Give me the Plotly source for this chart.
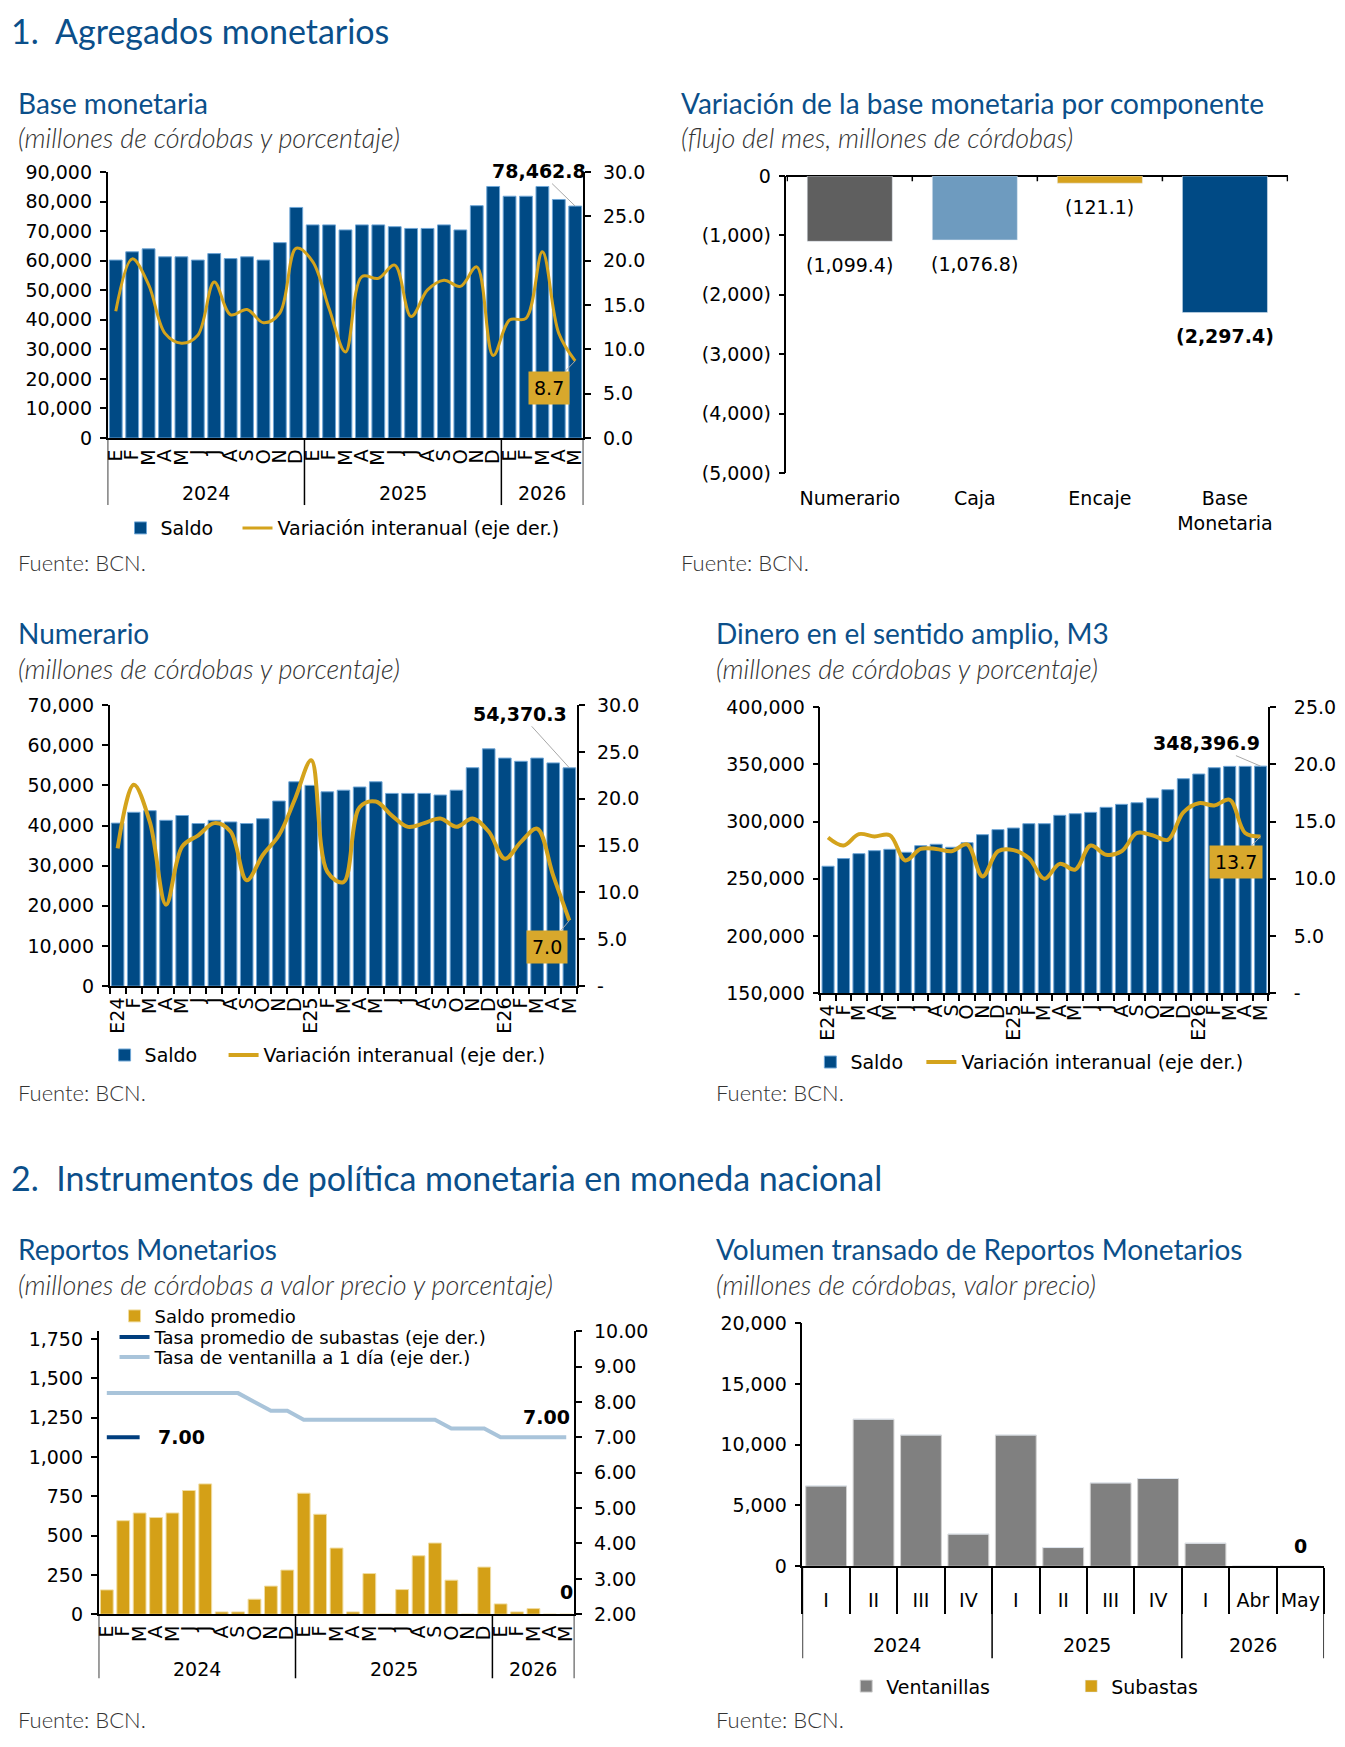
import plotly.graph_objects as go

# la página deja 8 px de margen: el lienzo es 16 px menor que la ventana
M = 8
W, H = 1345 - 2 * M, 1747 - 2 * M
# calibración vertical medida en la foto: y_foto ≈ Y0 + K · y_lienzo
Y0, K = 18.05, 0.9871


def px(x):
    return (x - M) / W


def py(y):
    return 1 - ((y - Y0) / K) / H


# ---------------- datos ----------------
anios_mes = ["2024", "2024", "2024", "2024", "2024", "2024", "2024", "2024", "2024", "2024", "2024", "2024",
             "2025", "2025", "2025", "2025", "2025", "2025", "2025", "2025", "2025", "2025", "2025", "2025",
             "2026", "2026", "2026", "2026", "2026"]
meses_mes = ["E", "F", "M", "A", "M", "J", "J", "A", "S", "O", "N", "D",
             "E", "F", "M", "A", "M", "J", "J", "A", "S", "O", "N", "D",
             "E", "F", "M", "A", "M"]
meses_cortos = ["E24", "F", "M", "A", "M", "J", "J", "A", "S", "O", "N", "D",
                "E25", "F", "M", "A", "M", "J", "J", "A", "S", "O", "N", "D",
                "E26", "F", "M", "A", "M"]

base_saldo = [60200, 63000, 64000, 61300, 61300, 60200, 62400, 60700, 61300, 60200, 66100, 78000,
              72100, 72100, 70400, 72100, 72100, 71500, 70900, 70900, 72100, 70400, 78600, 85100,
              81800, 81800, 85100, 80700, 78462.8]
base_var = [14.3, 20.2, 17.3, 11.8, 10.7, 11.6, 17.6, 13.9, 14.5, 13.0, 14.1, 21.4,
            19.9, 14.6, 9.7, 18.2, 18.0, 19.5, 13.7, 16.7, 17.8, 17.1, 19.3, 9.3,
            13.3, 13.5, 21.0, 11.8, 8.7]

comp_nombres = ["Numerario", "Caja", "Encaje", "Base<br>Monetaria"]
comp_valores = [-1099.4, -1076.8, -121.1, -2297.4]

num_saldo = [40600, 43300, 43700, 41300, 42500, 40500, 41300, 40900, 40500, 41700, 46100, 50900,
             50000, 48400, 48800, 49600, 50900, 48000, 48000, 48000, 47600, 48800, 54400, 59100,
             56800, 56000, 56800, 55600, 54370.3]
num_var = [14.7, 21.5, 17.5, 8.7, 14.9, 16.1, 17.4, 16.5, 11.3, 14.0, 16.1, 20.0,
           24.1, 12.2, 11.1, 19.1, 19.7, 18.2, 17.0, 17.4, 17.9, 17.0, 17.9, 16.5,
           13.6, 15.4, 16.8, 11.8, 7.0]

m3_saldo = [260900, 267600, 271900, 274500, 275700, 273100, 278900, 280100, 277500, 281500, 288500, 292900,
            294300, 298100, 298100, 305400, 306800, 308000, 312400, 315000, 316400, 320500, 327800, 337400,
            341500, 347000, 348200, 348200, 348396.9]
m3_var = [13.6, 12.9, 13.9, 13.7, 13.8, 11.6, 12.6, 12.6, 12.4, 13.0, 10.2, 12.4,
          12.5, 11.8, 10.0, 11.3, 10.8, 12.9, 12.1, 12.4, 14.0, 13.8, 13.4, 15.8,
          16.6, 16.4, 16.9, 14.0, 13.7]

rep_saldo = [155, 595, 644, 615, 644, 787, 829, 15, 15, 96, 179, 281,
             770, 636, 421, 15, 259, 0, 157, 372, 453, 217, 0, 300,
             66, 15, 36, 0, 0]
rep_subastas = [7.00, 7.00, 7.00, None, None, None, None, None, None, None, None, None,
                None, None, None, None, None, None, None, None, None, None, None, None,
                None, None, None, None, None]
rep_ventanilla = [8.25, 8.25, 8.25, 8.25, 8.25, 8.25, 8.25, 8.25, 8.25, 8.00, 7.75, 7.75,
                  7.50, 7.50, 7.50, 7.50, 7.50, 7.50, 7.50, 7.50, 7.50, 7.25, 7.25, 7.25,
                  7.00, 7.00, 7.00, 7.00, 7.00]

vol_anios = ["2024", "2024", "2024", "2024", "2025", "2025", "2025", "2025", "2026", "2026", "2026"]
vol_periodos = ["I", "II", "III", "IV", "I", "II", "III", "IV", "I", "Abr", "May"]
vol_ventanillas = [6610, 12100, 10800, 2650, 10800, 1540, 6860, 7220, 1900, 0, 0]
vol_subastas = [0, 0, 0, 0, 0, 0, 0, 0, 0, 0, 0]

# ---------------- estilos ----------------
AZUL_TIT = "#0b4f8a"
AZUL = "#004a85"
BORDE = "#6fa6d6"
ORO = "#d4a31c"
CAJA_ORO = "#d8a82c"
CELESTE = "#a9c4da"
AZUL_OSC = "#003e7e"
GRIS = "#808080"

FT = "DejaVu Sans"
FS = 19
tick_font = dict(family=FT, size=FS, color="black")
eje = dict(showline=True, linecolor="black", linewidth=1.5, ticks="outside", ticklen=6,
           tickcolor="black", tickwidth=1.5, showgrid=False, zeroline=False, tickfont=tick_font)

fig = go.Figure()
idx = list(range(len(meses_mes)))
idx_vol = list(range(len(vol_periodos)))

# Base monetaria
fig.add_trace(go.Bar(x=idx, y=base_saldo, name="Saldo", width=0.78, legendwidth=72,
                     marker=dict(color=AZUL, line=dict(color=BORDE, width=1)),
                     xaxis="x", yaxis="y", legend="legend"))
fig.add_trace(go.Scatter(x=idx, y=base_var, name="Variación interanual (eje der.)", mode="lines",
                         line=dict(color=ORO, width=3, shape="spline", smoothing=1),
                         xaxis="x", yaxis="y2", legend="legend"))

# Variación por componente
fig.add_trace(go.Bar(x=comp_nombres, y=comp_valores, width=0.68, showlegend=False,
                     marker=dict(color=["#5f5f5f", "#6e9bbf", "#d6a21d", AZUL]),
                     xaxis="x2", yaxis="y3"))
for n, v in zip(comp_nombres, comp_valores):
    t = f"({abs(v):,.1f})"
    fig.add_annotation(x=n, y=v, xref="x2", yref="y3", showarrow=False, yanchor="middle", yshift=-24,
                       text=f"<b>{t}</b>" if n.startswith("Base") else t,
                       font=dict(family=FT, size=FS, color="black"))

# Numerario
fig.add_trace(go.Bar(x=idx, y=num_saldo, name="Saldo", width=0.78, legendwidth=74,
                     marker=dict(color=AZUL, line=dict(color=BORDE, width=1)),
                     xaxis="x3", yaxis="y4", legend="legend2"))
fig.add_trace(go.Scatter(x=idx, y=num_var, name="Variación interanual (eje der.)", mode="lines",
                         line=dict(color=ORO, width=4, shape="spline", smoothing=1),
                         xaxis="x3", yaxis="y5", legend="legend2"))

# M3
fig.add_trace(go.Bar(x=idx, y=m3_saldo, name="Saldo", width=0.78, legendwidth=66,
                     marker=dict(color=AZUL, line=dict(color=BORDE, width=1)),
                     xaxis="x4", yaxis="y6", legend="legend3"))
fig.add_trace(go.Scatter(x=idx, y=m3_var, name="Variación interanual (eje der.)", mode="lines",
                         line=dict(color=ORO, width=4, shape="spline", smoothing=1),
                         xaxis="x4", yaxis="y7", legend="legend3"))

# Reportos
fig.add_trace(go.Bar(x=idx, y=rep_saldo, name="Saldo promedio", width=0.78,
                     marker=dict(color="#d4a017", line=dict(color="#f0dca0", width=1)),
                     xaxis="x5", yaxis="y8", legend="legend4"))
fig.add_trace(go.Scatter(x=idx, y=rep_subastas, name="Tasa promedio de subastas (eje der.)", mode="lines",
                         line=dict(color=AZUL_OSC, width=4), xaxis="x5", yaxis="y9", legend="legend6"))
fig.add_trace(go.Scatter(x=idx, y=rep_ventanilla, name="Tasa de ventanilla a 1 día (eje der.)", mode="lines",
                         line=dict(color=CELESTE, width=4), xaxis="x5", yaxis="y9", legend="legend7"))

# Volumen transado
fig.add_trace(go.Bar(x=idx_vol, y=vol_ventanillas, name="Ventanillas", width=0.86, legendwidth=180,
                     marker=dict(color=GRIS, line=dict(color="#d0d0d0", width=1)),
                     xaxis="x6", yaxis="y10", legend="legend5"))
fig.add_trace(go.Bar(x=idx_vol, y=vol_subastas, name="Subastas", width=0.86, base=vol_ventanillas,
                     marker=dict(color="#d4a017"), xaxis="x6", yaxis="y10", legend="legend5"))

# ---------------- ejes ----------------
def eje_meses(x0, x1, anchor, textos, standoff=2):
    return dict(eje, domain=[px(x0), px(x1)], anchor=anchor, range=[-0.5, len(textos) - 0.5],
                tickvals=list(range(len(textos))), ticktext=textos, tickangle=-90, ticks="",
                ticklabelstandoff=standoff)


limites = [i - 0.5 for i in range(len(meses_mes) + 1)]
menor = dict(tickvals=limites, ticks="outside", ticklen=6, tickcolor="black", tickwidth=1.5)

fig.update_layout(
    xaxis=eje_meses(104, 582, "y", meses_mes),
    yaxis=dict(eje, domain=[py(437), py(171)], range=[0, 90000], dtick=10000, tickformat=",",
               anchor="x", ticklabelstandoff=4),
    yaxis2=dict(eje, overlaying="y", side="right", range=[0, 30], dtick=5, tickformat=".1f",
                anchor="x", ticklabelstandoff=8),

    xaxis2=dict(domain=[px(786), px(1290)], anchor="y3", showline=False, ticks="",
                showgrid=False, tickfont=tick_font, ticklabelstandoff=12),
    yaxis3=dict(eje, domain=[py(472), py(175)], range=[-5000, 0], anchor="x2",
                tickvals=[0, -1000, -2000, -3000, -4000, -5000],
                ticktext=["0", "(1,000)", "(2,000)", "(3,000)", "(4,000)", "(5,000)"],
                zeroline=True, zerolinecolor="black", zerolinewidth=1.5, ticklabelstandoff=4),

    xaxis3=dict(eje_meses(106, 576, "y4", meses_cortos), minor=menor),
    yaxis4=dict(eje, domain=[py(985), py(704)], range=[0, 70000], dtick=10000, tickformat=",",
                anchor="x3", ticklabelstandoff=4),
    yaxis5=dict(eje, overlaying="y4", side="right", range=[0, 30], anchor="x3",
                tickvals=[0, 5, 10, 15, 20, 25, 30], ticklabelstandoff=8,
                ticktext=["-", "5.0", "10.0", "15.0", "20.0", "25.0", "30.0"]),

    xaxis4=dict(eje_meses(820, 1270, "y6", meses_cortos), minor=menor),
    yaxis6=dict(eje, domain=[py(992), py(706)], range=[150000, 400000], dtick=50000,
                tickformat=",", anchor="x4", ticklabelstandoff=4),
    yaxis7=dict(eje, overlaying="y6", side="right", range=[0, 25], anchor="x4",
                tickvals=[0, 5, 10, 15, 20, 25], ticklabelstandoff=14,
                ticktext=["-", "5.0", "10.0", "15.0", "20.0", "25.0"]),

    xaxis5=eje_meses(95, 573, "y8", meses_mes),
    yaxis8=dict(eje, domain=[py(1613), py(1330)], range=[0, 1800], anchor="x5",
                tickvals=[0, 250, 500, 750, 1000, 1250, 1500, 1750], tickformat=",",
                ticklabelstandoff=4),
    yaxis9=dict(eje, overlaying="y8", side="right", range=[2, 10], dtick=1, tickformat=".2f",
                anchor="x5", ticklabelstandoff=8),

    xaxis6=dict(eje, domain=[px(802), px(1326)], anchor="y10", range=[-0.5, len(vol_periodos) - 0.5],
                tickvals=idx_vol, ticktext=vol_periodos, ticks="", ticklabelstandoff=16,
                minor=dict(tickvals=[i - 0.5 for i in range(len(vol_periodos) + 1)], ticks="outside",
                           ticklen=46, tickcolor="black", tickwidth=1.5)),
    yaxis10=dict(eje, domain=[py(1565), py(1322)], range=[0, 20000], dtick=5000,
                 tickformat=",", anchor="x6", ticklabelstandoff=4),
)


# años y separadores bajo los ejes de meses
def grupos(anios):
    g = []
    for i, a in enumerate(anios):
        if g and g[-1][0] == a:
            g[-1][2] = i
        else:
            g.append([a, i, i])
    return g


def anios_eje(xr, anios, y_eje, y_anio, y_fin):
    g = grupos(anios)
    cortes = [grp[1] - 0.5 for grp in g] + [g[-1][2] + 0.5]
    for c in cortes:
        fig.add_shape(type="line", xref=xr, yref="paper", x0=c, x1=c, y0=py(y_eje), y1=py(y_fin),
                      line=dict(color="black", width=1.5))
    for a, i0, i1 in g:
        fig.add_annotation(x=(i0 + i1) / 2, y=py(y_anio), xref=xr, yref="paper", text=a,
                           showarrow=False, yanchor="middle", font=tick_font)


anios_eje("x", anios_mes, 437, 492, 504)
anios_eje("x5", anios_mes, 1613, 1668, 1677)
anios_eje("x6", vol_anios, 1565, 1644, 1657)

# marcas del eje de categorías en el gráfico de componentes
for i in range(len(comp_nombres) + 1):
    fig.add_shape(type="line", xref="x2", yref="y3", x0=i - 0.5, x1=i - 0.5, y0=0, y1=-90,
                  line=dict(color="black", width=1.5))


# ---------------- textos ----------------
def texto(x, y, t, size, color="#222", italic=False, weight=400):
    if italic:
        t = f"<i>{t}</i>"
    fig.add_annotation(x=px(x), y=py(y), xref="paper", yref="paper", text=t, showarrow=False,
                       xanchor="left", yanchor="middle",
                       font=dict(family="Lato", size=size, color=color, weight=weight))


texto(5, 30, "1.  Agregados monetarios", 34, AZUL_TIT)
texto(5, 1176, "2.  Instrumentos de política monetaria en moneda nacional", 34, AZUL_TIT)

paneles = [
    (12, 102, "Base monetaria", "(millones de córdobas y porcentaje)", 561),
    (678, 102, "Variación de la base monetaria por componente", "(flujo del mes, millones de córdobas)", 561),
    (12, 632, "Numerario", "(millones de córdobas y porcentaje)", 1091),
    (713, 632, "Dinero en el sentido amplio, M3", "(millones de córdobas y porcentaje)", 1091),
    (12, 1248, "Reportos Monetarios", "(millones de córdobas a valor precio y porcentaje)", 1718),
    (713, 1248, "Volumen transado de Reportos Monetarios", "(millones de córdobas, valor precio)", 1718),
]
for x0, y0, tit, sub, yf in paneles:
    texto(x0, y0, tit, 28, AZUL_TIT)
    texto(x0, y0 + 35, sub, 27, "#333", italic=True, weight=300)
    texto(x0, yf, "Fuente: BCN.", 22, "#333", weight=300)

lbl = dict(family=FT, size=FS, color="black")
ult = idx[-1]


def rotulo_saldo(xr, yr, valor, ax, ay):
    fig.add_annotation(x=ult, y=valor, xref=xr, yref=yr, text=f"<b>{valor:,.1f}</b>",
                       showarrow=True, arrowhead=0, arrowwidth=1, arrowcolor="#a8a8a8",
                       ax=ax, ay=ay, font=lbl)


def rotulo_var(xr, yr, valor, ax, ay):
    fig.add_annotation(x=ult, y=valor, xref=xr, yref=yr, text=f"{valor:.1f}",
                       showarrow=True, arrowhead=0, arrowwidth=1, arrowcolor="#a8a8a8",
                       ax=ax, ay=ay, bgcolor=CAJA_ORO, borderpad=5, font=lbl)


rotulo_saldo("x", "y", base_saldo[-1], -36, -35)
rotulo_var("x", "y2", base_var[-1], -26, 27)
rotulo_saldo("x3", "y4", num_saldo[-1], -49, -54)
rotulo_var("x3", "y5", num_var[-1], -22, 26)
rotulo_saldo("x4", "y6", m3_saldo[-1], -54, -23)
rotulo_var("x4", "y7", m3_var[-1], -25, 26)

ult_sub = max(i for i, v in enumerate(rep_subastas) if v is not None)
fig.add_annotation(x=ult_sub, y=rep_subastas[ult_sub], xref="x5", yref="y9",
                   text=f"<b>{rep_subastas[ult_sub]:.2f}</b>", showarrow=False,
                   xanchor="left", xshift=16, font=lbl)
fig.add_annotation(x=ult, y=rep_ventanilla[-1], xref="x5", yref="y9",
                   text=f"<b>{rep_ventanilla[-1]:.2f}</b>", showarrow=False,
                   xanchor="right", xshift=6, yshift=20, font=lbl)
fig.add_annotation(x=ult, y=rep_saldo[-1], xref="x5", yref="y8",
                   text=f"<b>{rep_saldo[-1]}</b>", showarrow=False, yshift=22, font=lbl)
fig.add_annotation(x=idx_vol[-1], y=vol_ventanillas[-1] + vol_subastas[-1],
                   xref="x6", yref="y10", text=f"<b>{vol_ventanillas[-1] + vol_subastas[-1]}</b>",
                   showarrow=False, yshift=20, font=lbl)

# ---------------- leyendas ----------------
leg = dict(font=dict(family=FT, size=FS, color="black"), bgcolor="rgba(0,0,0,0)",
           xanchor="left", yanchor="middle", orientation="h")
leg_rep = dict(leg, font=dict(family=FT, size=18, color="black"))
fig.update_layout(
    legend=dict(leg, x=px(117), y=py(527)),
    legend2=dict(leg, x=px(101), y=py(1054)),
    legend3=dict(leg, x=px(810), y=py(1061)),
    legend4=dict(leg_rep, x=px(111), y=py(1315)),
    legend6=dict(leg_rep, x=px(111), y=py(1336)),
    legend7=dict(leg_rep, x=px(111), y=py(1356)),
    legend5=dict(leg, x=px(846), y=py(1685)),
    barmode="overlay",
    width=W, height=H, autosize=False,
    margin=dict(l=0, r=0, t=0, b=0),
    paper_bgcolor="white", plot_bgcolor="white",
    font=dict(family=FT, size=FS, color="black"),
)

fig.write_html("out.html", config={"displayModeBar": False})
